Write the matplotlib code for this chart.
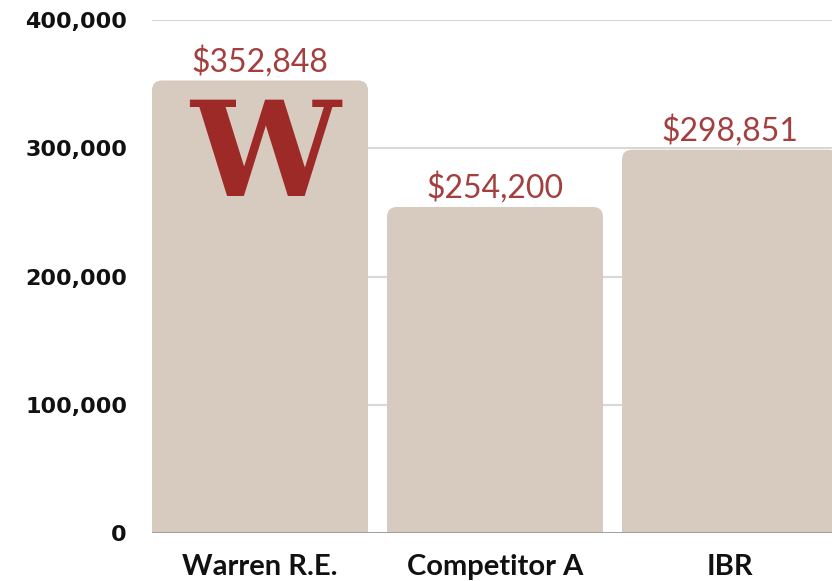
import matplotlib.pyplot as plt
from matplotlib.patches import FancyBboxPatch
from matplotlib.ticker import FuncFormatter

categories = ['Warren R.E.', 'Competitor A', 'IBR']
values = [352848, 254200, 298851]
value_labels = ['$352,848', '$254,200', '$298,851']
yticks = [0, 100000, 200000, 300000, 400000]

bar_color = '#d6cbbe'
label_color = '#a3403f'
logo_color = '#9e2a28'

fig = plt.figure(figsize=(8.32, 5.81), dpi=100)
ax = fig.add_axes([152/832, 48/581, 1 - 152/832, (533 - 20)/581])

width = 216/235
ax.set_xlim(-width/2, 2 + 102/235)
ax.set_ylim(0, 400000)

# pixel size in data units, for rounding and offsets
px_x = 1/235
px_y = 100000/128.25
r = 10
for i, v in enumerate(values):
    p = FancyBboxPatch((i - width/2, -30000), width, v + 30000,
                       boxstyle='round,pad=0,rounding_size=%f' % (r*px_x),
                       mutation_aspect=px_y/px_x,
                       fc=bar_color, ec='none', zorder=2)
    ax.add_patch(p)
    ax.text(i, v + 9*px_y, value_labels[i], ha='center', va='baseline',
            color=label_color, fontsize=23, family='Lato',
            clip_on=False, zorder=3)

# logo
ax.text(0 + 5*px_x, values[0] - 116*px_y, 'W', ha='center', va='baseline',
        color=logo_color, fontsize=96, family='DejaVu Serif',
        fontweight='bold', zorder=3)

ax.set_yticks(yticks)
ax.yaxis.set_major_formatter(FuncFormatter(lambda v, p: '{:,.0f}'.format(v)))
ax.grid(axis='y', color='#d8d8d8', lw=1.5, zorder=0)
ax.set_axisbelow(True)
ax.axhline(0, color='#9a9a9a', lw=2, zorder=4)

ax.set_xticks(range(len(categories)))
ax.set_xticklabels(categories)
for lab in ax.get_xticklabels():
    lab.set_fontsize(21)
    lab.set_fontweight('bold')
    lab.set_family('Lato')
for lab in ax.get_yticklabels():
    lab.set_fontsize(16)
    lab.set_fontweight('bold')
    lab.set_family('DejaVu Sans')
ax.tick_params(axis='x', length=0, pad=15, colors='#111111')
ax.yaxis.set_tick_params(length=0, pad=18, colors='#111111')
for s in ax.spines.values():
    s.set_visible(False)

fig.savefig('out.png', dpi=100)
